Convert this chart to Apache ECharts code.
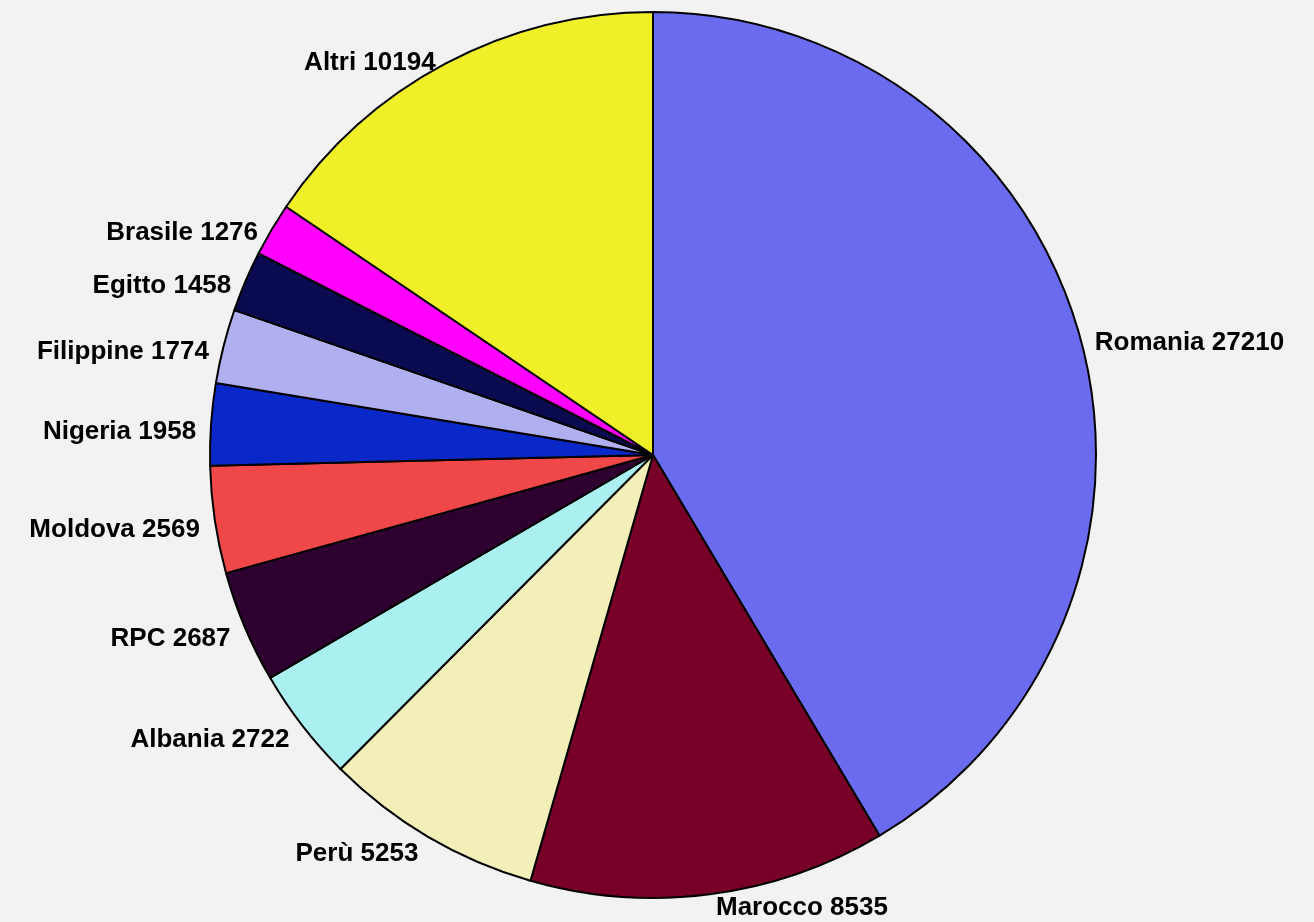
<!DOCTYPE html>
<html lang="it">
<head>
  <meta charset="UTF-8">
  <title>Stranieri per cittadinanza</title>
  <style>
    html, body { margin: 0; padding: 0; background: #f2f2f2; }
  </style>
</head>
<body>
  <div id="main" style="width: 1314px;height:922px;"></div>

  <script src="https://cdn.jsdelivr.net/npm/echarts@6/dist/echarts.min.js"></script>
  <script>
    const myChart = echarts.init(document.getElementById('main'));

    // dati
    const paesi = ['Romania', 'Marocco', 'Perù', 'Albania', 'RPC', 'Moldova',
      'Nigeria', 'Filippine', 'Egitto', 'Brasile', 'Altri'];
    const valori = [27210, 8535, 5253, 2722, 2687, 2569, 1958, 1774, 1458, 1276, 10194];
    const colori = ['#6b6bef', '#780028', '#f3efb8', '#aaf0f0', '#2e0030', '#f04848',
      '#0a28c8', '#b0b0f0', '#0a0a50', '#ff00ff', '#f0f028'];

    const options = {
      backgroundColor: '#f2f2f2',
      animation: false,
      series: [{
        type: 'pie',
        center: [653, 455],
        radius: 443,
        startAngle: 90,
        clockwise: true,
        label: {
          show: true,
          position: 'outside',
          formatter: '{b} {c}',
          fontFamily: 'Liberation Sans, Arial, sans-serif',
          fontWeight: 'bold',
          fontSize: 26,
          color: '#000',
          offset: [0, 8],
          overflow: 'none'
        },
        labelLine: {
          show: false,
          length: 10,
          length2: 0
        },
        itemStyle: {
          borderColor: '#000',
          borderWidth: 2
        },
        emphasis: { disabled: true },
        data: paesi.map((p, i) => ({
          name: p,
          value: valori[i],
          itemStyle: { color: colori[i] }
        }))
      }]
    };

    myChart.setOption(options);
  </script>
</body>
</html>
